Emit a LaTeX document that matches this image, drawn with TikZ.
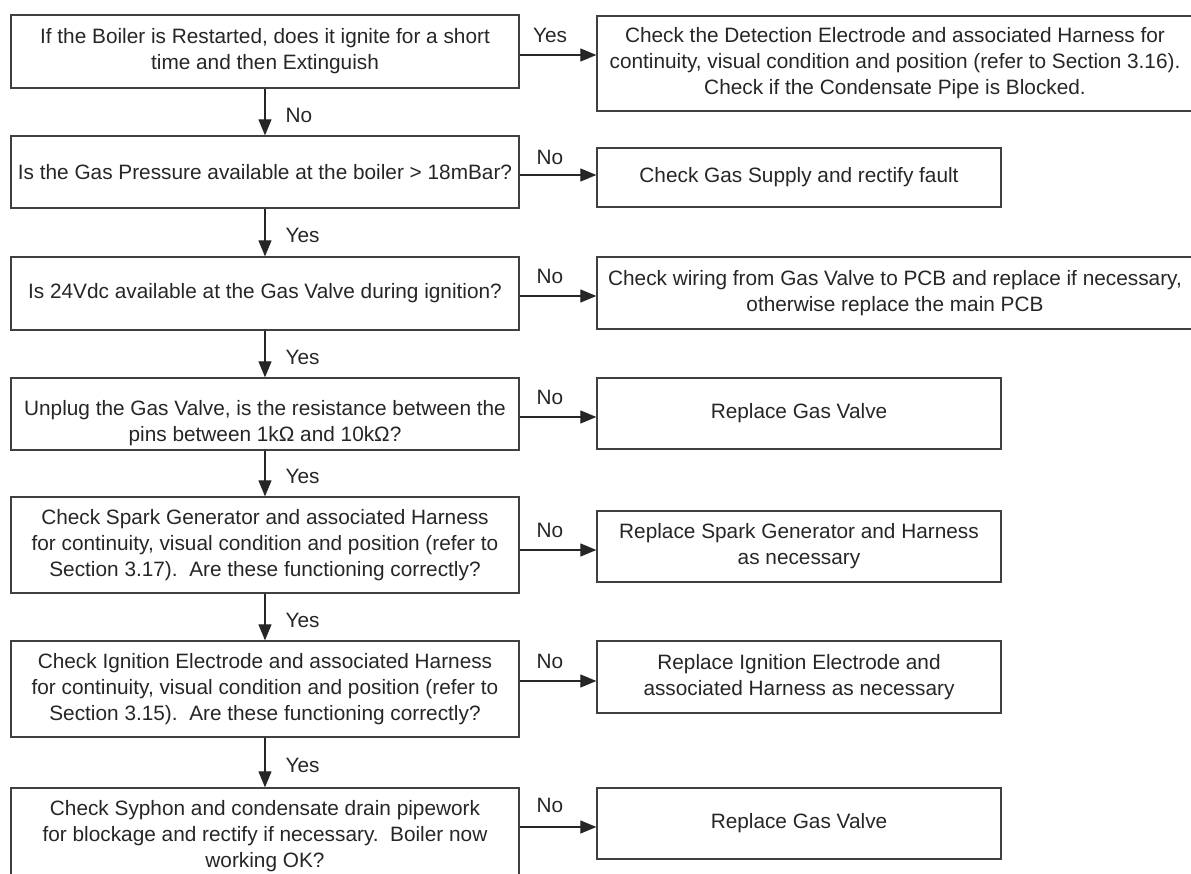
\documentclass[tikz,border=0pt]{standalone}
\usepackage{fontspec}
\setmainfont{Liberation Sans}
\usetikzlibrary{arrows.meta}
\begin{document}
\begin{tikzpicture}[x=1pt,y=-1pt,
  box/.style={draw=black!75, line width=1.3pt, text=black!85, align=center, inner sep=0pt, font=\fontsize{20.8}{26}\selectfont},
  lbox/.style={box, minimum width=508pt},
  rbox/.style={box, minimum width=404pt},
  wbox/.style={box, minimum width=596pt},
  arr/.style={draw=black!85, line width=1.2pt, -{Triangle[length=16pt,width=13pt]}},
  lbl/.style={text=black!85, font=\fontsize{20.8}{26}\selectfont, inner sep=0pt}]
\useasboundingbox (0,0) rectangle (1191,874);
\clip (0,0) rectangle (1191,874);

% left column
\node[lbox, minimum height=73pt] (L1) at (265,51.5) {If the Boiler is Restarted, does it ignite for a short\\time and then Extinguish};
\node[lbox, minimum height=72pt] (L2) at (265,172) {Is the Gas Pressure available at the boiler > 18mBar?};
\node[lbox, minimum height=73pt] (L3) at (265,293.5) {Is 24Vdc available at the Gas Valve during ignition?};
\node[lbox, minimum height=72pt] (L4) at (265,414) {\rule{0pt}{33pt}Unplug the Gas Valve, is the resistance between the\\pins between 1kΩ and 10kΩ?};
\node[lbox, minimum height=96pt] (L5) at (265,545) {Check Spark Generator and associated Harness\\for continuity, visual condition and position (refer to\\Section 3.17).\ \ Are these functioning correctly?};
\node[lbox, minimum height=96pt] (L6) at (265,689) {Check Ignition Electrode and associated Harness\\for continuity, visual condition and position (refer to\\Section 3.15).\ \ Are these functioning correctly?};
\node[lbox, minimum height=96pt] (L7) at (265,836) {Check Syphon and condensate drain pipework\\for blockage and rectify if necessary.\ \ Boiler now\\working OK?};

% right column
\node[wbox, minimum height=95pt] (R1) at (895,63.5) {Check the Detection Electrode and associated Harness for\\continuity, visual condition and position (refer to Section 3.16).\\Check if the Condensate Pipe is Blocked.};
\node[rbox, minimum height=59pt] (R2) at (799,177.5) {Check Gas Supply and rectify fault};
\node[wbox, minimum height=72pt] (R3) at (895,293) {Check wiring from Gas Valve to PCB and replace if necessary,\\otherwise replace the main PCB};
\node[rbox, minimum height=71pt] (R4) at (799,413.5) {Replace Gas Valve};
\node[rbox, minimum height=71pt] (R5) at (799,546.5) {Replace Spark Generator and Harness\\as necessary};
\node[rbox, minimum height=72pt] (R6) at (799,677) {Replace Ignition Electrode and\\associated Harness as necessary};
\node[rbox, minimum height=71pt] (R7) at (799,823.5) {Replace Gas Valve};

% vertical connectors
\draw[arr] (L1) -- node[lbl, anchor=west, xshift=20pt, yshift=-3pt] {No} (L2);
\draw[arr] (L2) -- node[lbl, anchor=west, xshift=20pt, yshift=-3pt] {Yes} (L3);
\draw[arr] (L3) -- node[lbl, anchor=west, xshift=20pt, yshift=-3pt] {Yes} (L4);
\draw[arr] (L4) -- node[lbl, anchor=west, xshift=20pt, yshift=-3pt] {Yes} (L5);
\draw[arr] (L5) -- node[lbl, anchor=west, xshift=20pt, yshift=-3pt] {Yes} (L6);
\draw[arr] (L6) -- node[lbl, anchor=west, xshift=20pt, yshift=-3pt] {Yes} (L7);

% horizontal connectors
\draw[arr] ([yshift=-3.5pt]L1.east) -- node[lbl, xshift=-8pt, yshift=20pt] {Yes} ([yshift=-3.5pt]L1.east -| R1.west);
\draw[arr] ([yshift=-3pt]L2.east) -- node[lbl, xshift=-8pt, yshift=18pt] {No} ([yshift=-3pt]L2.east -| R2.west);
\draw[arr] ([yshift=-2.5pt]L3.east) -- node[lbl, xshift=-8pt, yshift=20pt] {No} ([yshift=-2.5pt]L3.east -| R3.west);
\draw[arr] ([yshift=-3pt]L4.east) -- node[lbl, xshift=-8pt, yshift=20pt] {No} ([yshift=-3pt]L4.east -| R4.west);
\draw[arr] ([yshift=-5pt]L5.east) -- node[lbl, xshift=-8pt, yshift=20pt] {No} ([yshift=-5pt]L5.east -| R5.west);
\draw[arr] ([yshift=8pt]L6.east) -- node[lbl, xshift=-8pt, yshift=20pt] {No} ([yshift=8pt]L6.east -| R6.west);
\draw[arr] ([yshift=9pt]L7.east) -- node[lbl, xshift=-8pt, yshift=22pt] {No} ([yshift=9pt]L7.east -| R7.west);
\end{tikzpicture}
\end{document}
